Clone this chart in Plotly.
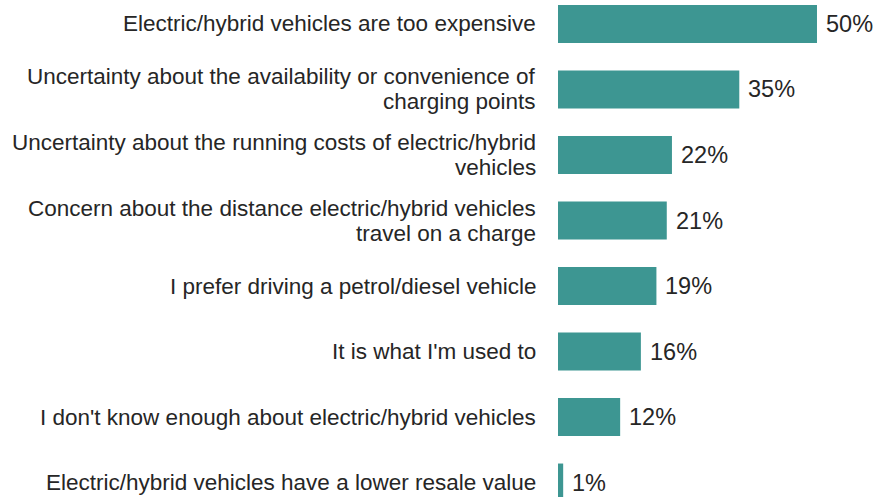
import plotly.graph_objects as go

categories = [
    "Electric/hybrid vehicles are too expensive",
    "Uncertainty about the availability or convenience of<br>charging points",
    "Uncertainty about the running costs of electric/hybrid<br>vehicles",
    "Concern about the distance electric/hybrid vehicles<br>travel on a charge",
    "I prefer driving a petrol/diesel vehicle",
    "It is what I'm used to",
    "I don't know enough about electric/hybrid vehicles",
    "Electric/hybrid vehicles have a lower resale value",
]
values = [50, 35, 22, 21, 19, 16, 12, 1]

BAR_COLOR = "#3d9692"
TEXT_COLOR = "#262626"
FONT = "Liberation Sans, Arial, sans-serif"
LINE_GAP = 25  # px between wrapped label lines

positions = list(range(len(categories)))

fig = go.Figure(
    go.Bar(
        x=values,
        y=positions,
        orientation="h",
        width=0.58,
        marker=dict(color=BAR_COLOR, line=dict(width=0)),
        hoverinfo="skip",
    )
)

annotations = []
for pos, cat, val in zip(positions, categories, values):
    lines = cat.split("<br>")
    n = len(lines)
    for i, line in enumerate(lines):
        offset = ((n - 1) / 2 - i) * LINE_GAP
        annotations.append(dict(
            x=0, y=pos, xref="x", yref="y", text=line, showarrow=False,
            xanchor="right", yanchor="middle", align="right",
            xshift=-20, yshift=offset,
            font=dict(size=22.5, color=TEXT_COLOR, family=FONT),
        ))
    annotations.append(dict(
        x=val, y=pos, xref="x", yref="y", text=f"{val}%", showarrow=False,
        xanchor="left", yanchor="middle", xshift=7,
        font=dict(size=23.5, color=TEXT_COLOR, family=FONT),
    ))

fig.update_layout(
    width=875,
    height=497,
    margin=dict(l=558, r=0, t=0, b=0),
    paper_bgcolor="white",
    plot_bgcolor="white",
    showlegend=False,
    xaxis=dict(range=[0, 61.2], visible=False, fixedrange=True),
    yaxis=dict(range=[7.221, -0.366], visible=False, fixedrange=True),
    annotations=annotations,
    font=dict(family=FONT),
)

fig.write_html("out.html")
